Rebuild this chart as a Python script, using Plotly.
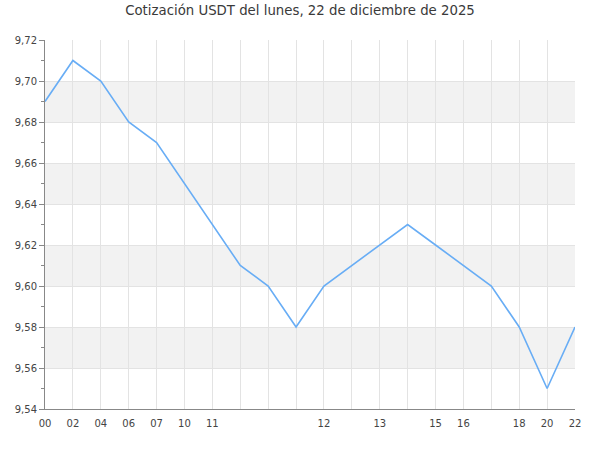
import plotly.graph_objects as go

# Data
hour_labels = ["00", "02", "04", "06", "07", "10", "11", "", "", "", "12", "", "13", "", "15", "16", "", "18", "20", "22"]
prices = [9.69, 9.71, 9.70, 9.68, 9.67, 9.65, 9.63, 9.61, 9.60, 9.58,
          9.60, 9.61, 9.62, 9.63, 9.62, 9.61, 9.60, 9.58, 9.55, 9.58]
y_ticks = [9.54, 9.56, 9.58, 9.60, 9.62, 9.64, 9.66, 9.68, 9.70, 9.72]
title_text = "Cotización USDT del lunes, 22 de diciembre de 2025"

x_idx = list(range(len(prices)))

fig = go.Figure()
fig.add_trace(go.Scatter(
    x=x_idx, y=prices, mode="lines",
    line=dict(color="#68adf5", width=1.6),
    hoverinfo="y", showlegend=False,
))

# alternating bands
shapes = []
for i in range(len(y_ticks) - 1):
    if i % 2 == 1:
        shapes.append(dict(type="rect", xref="paper", yref="y", x0=0, x1=1,
                           y0=y_ticks[i], y1=y_ticks[i + 1],
                           fillcolor="#f2f2f2", line=dict(width=0), layer="below"))

fig.update_layout(
    width=600, height=450,
    margin=dict(l=45, r=25, t=40, b=41),
    paper_bgcolor="white", plot_bgcolor="white",
    separators=",.",
    font=dict(family="DejaVu Sans, sans-serif", size=10, color="#444"),
    title=dict(text=title_text, x=0.5, xanchor="center", y=0.976, yanchor="middle",
               font=dict(size=13.3, color="#3a3a3a")),
    shapes=shapes,
    xaxis=dict(
        range=[0, len(prices) - 1], automargin=False,
        tickmode="array", tickvals=x_idx, ticktext=hour_labels,
        showgrid=True, gridcolor="#e3e3e3", gridwidth=1,
        showline=True, linecolor="#888", linewidth=1,
        ticks="outside", ticklen=5, tickcolor="rgba(0,0,0,0)",
        zeroline=False, tickfont=dict(size=10, color="#444"),
    ),
    yaxis=dict(
        range=[9.54, 9.72], automargin=False,
        tickmode="array", tickvals=y_ticks, tickformat=".2f",
        showgrid=True, gridcolor="#e3e3e3", gridwidth=1,
        showline=True, linecolor="#888", linewidth=1,
        ticks="outside", ticklen=5, tickcolor="#888",
        minor=dict(tickmode="array",
                   tickvals=[round(y_ticks[i] + 0.01, 2) for i in range(len(y_ticks) - 1)],
                   ticks="outside", ticklen=3, tickcolor="#888", showgrid=False),
        zeroline=False, tickfont=dict(size=10, color="#444"),
    ),
)

fig.write_html("out.html", config={"displayModeBar": False},
               post_script="document.body.style.margin='0';")
